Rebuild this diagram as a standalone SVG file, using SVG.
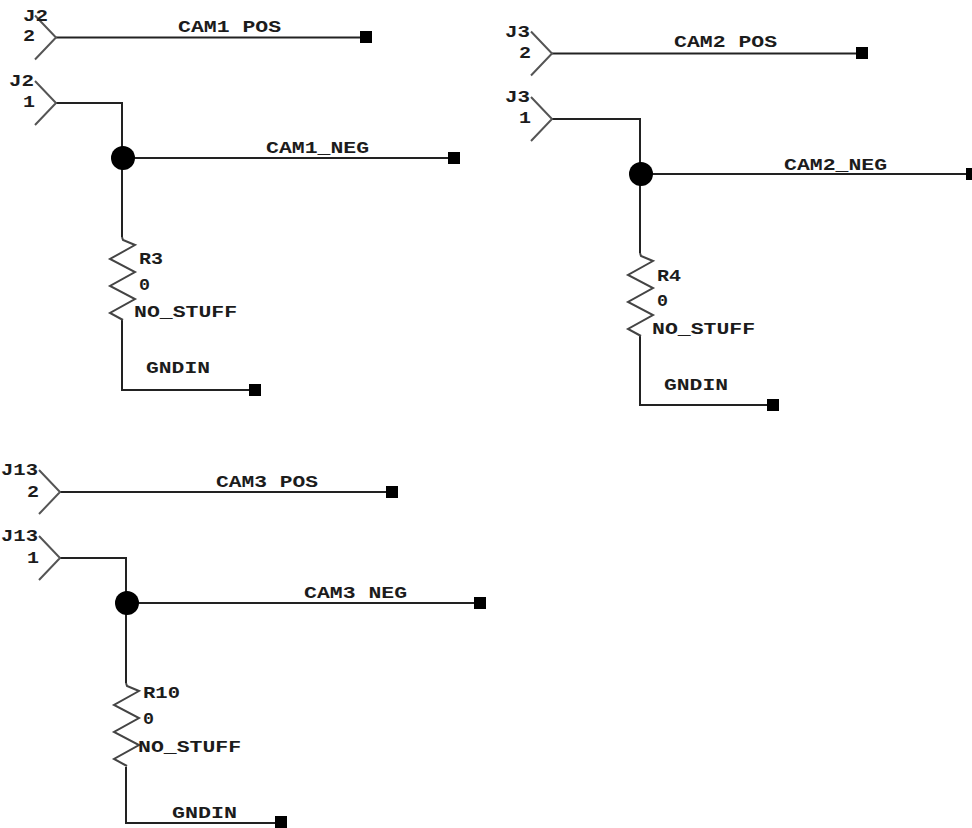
<svg xmlns="http://www.w3.org/2000/svg" width="972" height="828" viewBox="0 0 972 828">
<style>
text{font-family:"Liberation Mono","DejaVu Sans Mono",monospace;font-size:16px;font-weight:700;fill:#1c1c1c;lengthAdjust:spacingAndGlyphs}
.w{fill:none;stroke:#222;stroke-width:2}
.c{fill:none;stroke:#555;stroke-width:2}
.r{fill:none;stroke:#444;stroke-width:2}
.d{fill:#000}
</style>
<defs>
<polyline id="pin" class="c" points="-21,-22 0,0 -21,22"/>
<polyline id="res" class="r" points="0,0 1,3 13,8 -12,22 13,35 -12,49 13,62 -12,76 1,83"/>
</defs>
<rect width="972" height="828" fill="#fff"/>
<g id="connectors">
<path class="w" d="M56 37.500H366M56 103H122V237M123 158H454M122 320V390H255"/>
<path class="w" d="M552 53.500H862M552 119H640V253M641 174H972M640 336V405H773"/>
<path class="w" d="M60 492H392M60 558H126V683M127 603H480M126 767V823H281"/>
</g>
<g id="J2-2"><use href="#pin" x="56" y="37.500"/><text x="23" y="21" textLength="25" lengthAdjust="spacingAndGlyphs">J2</text><text x="23" y="41" textLength="12" lengthAdjust="spacingAndGlyphs">2</text></g>
<g id="J2-1"><use href="#pin" x="56" y="103"/><text x="9" y="86" textLength="25" lengthAdjust="spacingAndGlyphs">J2</text><text x="23" y="107" textLength="12" lengthAdjust="spacingAndGlyphs">1</text></g>
<g id="J3-2"><use href="#pin" x="552" y="53.500"/><text x="505" y="37" textLength="25" lengthAdjust="spacingAndGlyphs">J3</text><text x="519" y="58" textLength="12" lengthAdjust="spacingAndGlyphs">2</text></g>
<g id="J3-1"><use href="#pin" x="552" y="119"/><text x="505" y="102" textLength="25" lengthAdjust="spacingAndGlyphs">J3</text><text x="519" y="123" textLength="12" lengthAdjust="spacingAndGlyphs">1</text></g>
<g id="J13-2"><use href="#pin" x="60" y="492"/><text x="1" y="475" textLength="37" lengthAdjust="spacingAndGlyphs">J13</text><text x="27" y="497" textLength="12" lengthAdjust="spacingAndGlyphs">2</text></g>
<g id="J13-1"><use href="#pin" x="60" y="558"/><text x="1" y="541" textLength="37" lengthAdjust="spacingAndGlyphs">J13</text><text x="27" y="563" textLength="12" lengthAdjust="spacingAndGlyphs">1</text></g>
<g id="dot1"><circle class="d" cx="123" cy="158" r="12"/></g>
<g id="dot2"><circle class="d" cx="641" cy="174" r="12"/></g>
<g id="dot3"><circle class="d" cx="127" cy="603" r="12"/></g>
<g id="end1"><rect class="d" x="360" y="31" width="12" height="12"/><text x="178" y="32" textLength="103" lengthAdjust="spacingAndGlyphs">CAM1 POS</text></g>
<g id="end2"><rect class="d" x="448" y="152" width="12" height="12"/><text x="266" y="153" textLength="103" lengthAdjust="spacingAndGlyphs">CAM1_NEG</text></g>
<g id="end3"><rect class="d" x="249" y="384" width="12" height="12"/><text x="146" y="373" textLength="64" lengthAdjust="spacingAndGlyphs">GNDIN</text></g>
<g id="end4"><rect class="d" x="856" y="47" width="12" height="12"/><text x="674" y="47" textLength="103" lengthAdjust="spacingAndGlyphs">CAM2 POS</text></g>
<g id="end5"><rect class="d" x="966" y="168" width="12" height="12"/><text x="784" y="170" textLength="103" lengthAdjust="spacingAndGlyphs">CAM2_NEG</text></g>
<g id="end6"><rect class="d" x="767" y="399" width="12" height="12"/><text x="664" y="390" textLength="64" lengthAdjust="spacingAndGlyphs">GNDIN</text></g>
<g id="end7"><rect class="d" x="386" y="486" width="12" height="12"/><text x="216" y="487" textLength="102" lengthAdjust="spacingAndGlyphs">CAM3 POS</text></g>
<g id="end8"><rect class="d" x="474" y="597" width="12" height="12"/><text x="304" y="598" textLength="103" lengthAdjust="spacingAndGlyphs">CAM3 NEG</text></g>
<g id="end9"><rect class="d" x="275" y="816" width="12" height="12"/><text x="172" y="818" textLength="65" lengthAdjust="spacingAndGlyphs">GNDIN</text></g>
<g id="R3"><use href="#res" x="122" y="237"/><text x="139" y="264" textLength="24" lengthAdjust="spacingAndGlyphs">R3</text><text x="139" y="290" textLength="11" lengthAdjust="spacingAndGlyphs">0</text><text x="134" y="317" textLength="103" lengthAdjust="spacingAndGlyphs">NO_STUFF</text></g>
<g id="R4"><use href="#res" x="640" y="253"/><text x="657" y="281" textLength="24" lengthAdjust="spacingAndGlyphs">R4</text><text x="657" y="306" textLength="11" lengthAdjust="spacingAndGlyphs">0</text><text x="652" y="334" textLength="103" lengthAdjust="spacingAndGlyphs">NO_STUFF</text></g>
<g id="R10"><use href="#res" x="126" y="683"/><text x="143" y="698" textLength="37" lengthAdjust="spacingAndGlyphs">R10</text><text x="143" y="724" textLength="11" lengthAdjust="spacingAndGlyphs">0</text><text x="138" y="752" textLength="103" lengthAdjust="spacingAndGlyphs">NO_STUFF</text></g>
</svg>
